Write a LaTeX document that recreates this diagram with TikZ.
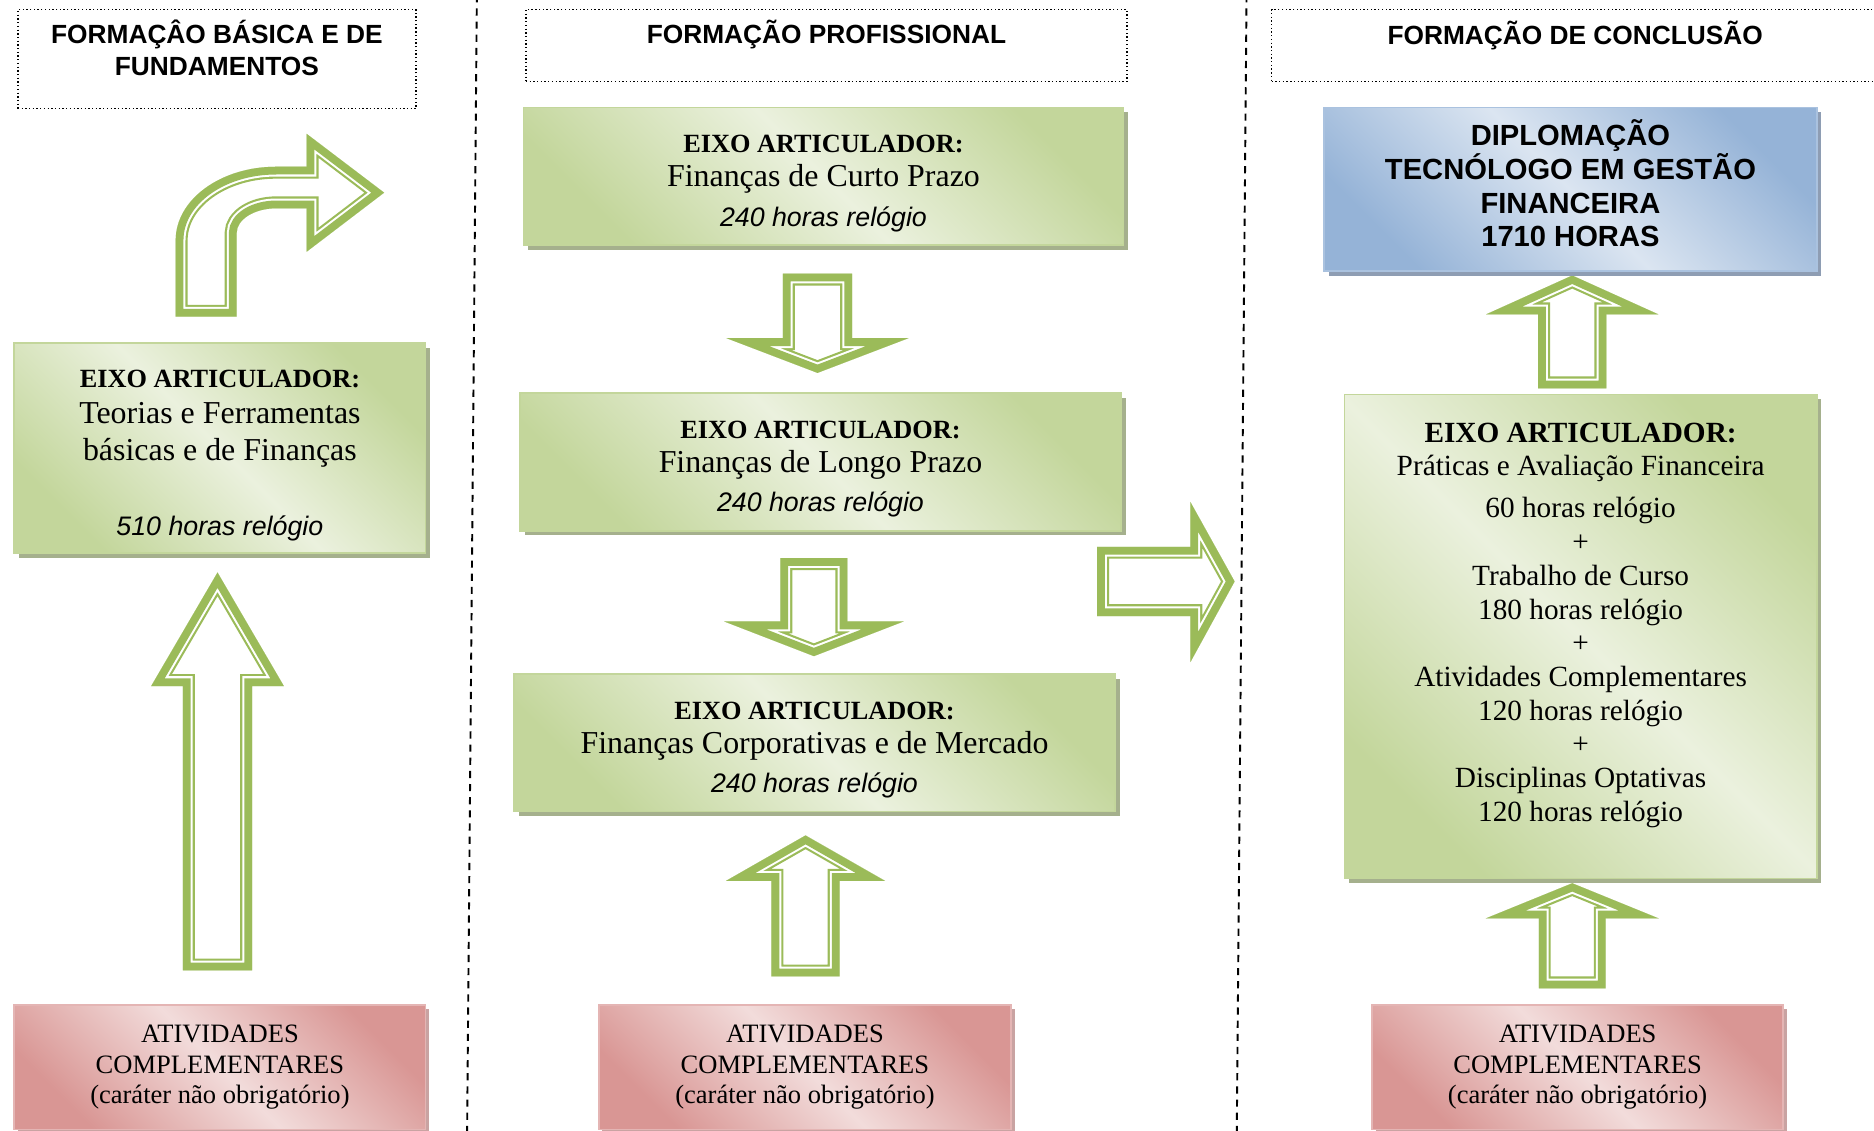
\documentclass[tikz,border=0pt]{standalone}
\usepackage{fontspec}
\setmainfont{Liberation Serif}
\setsansfont{Liberation Sans}
\usetikzlibrary{calc,shadows}
\definecolor{arrowgreen}{HTML}{9BBB59}
\definecolor{greenlt}{HTML}{EBF1DE}
\definecolor{greendk}{HTML}{C3D69B}
\definecolor{greenshd}{HTML}{A5B08D}
\definecolor{pinklt}{HTML}{F2DCDB}
\definecolor{pinkdk}{HTML}{D99694}
\definecolor{pinkshd}{HTML}{C9A3A2}
\definecolor{bluelt}{HTML}{DBE5F1}
\definecolor{bluedk}{HTML}{95B3D7}
\definecolor{blueshd}{HTML}{8E9DB3}
\tikzset{
  divider/.style={draw=black, line width=1.6pt, dash pattern=on 6pt off 5pt},
  frame/.style={draw=black, dotted, line width=1.1pt, inner sep=0pt},
  head/.style={font=\sffamily\bfseries\fontsize{22}{27}\selectfont, align=center, inner sep=0pt},
  greenbox/.style={draw=greendk, line width=1.5pt, left color=greendk, right color=greendk,
    middle color=greenlt, shading angle=-45, align=center, inner sep=0pt,
    drop shadow={shadow xshift=4pt, shadow yshift=-4pt, fill=greenshd, opacity=1}},
  pinkbox/.style={draw=pinkdk!70, line width=1.5pt, left color=pinkdk, right color=pinkdk,
    middle color=pinklt, shading angle=-45, align=center, inner sep=0pt,
    font=\fontsize{22.2}{25.5}\selectfont,
    drop shadow={shadow xshift=3pt, shadow yshift=-3pt, fill=pinkshd, opacity=1}},
  bluebox/.style={draw=bluedk!80, line width=1.5pt, left color=bluedk, right color=bluedk,
    middle color=bluelt, shading angle=-45, align=center, inner sep=0pt,
    font=\sffamily\bfseries\fontsize{24.4}{28.3}\selectfont,
    drop shadow={shadow xshift=4pt, shadow yshift=-4pt, fill=blueshd, opacity=1}},
}
% hollow block arrow: green rim, white gap, thin green line
\newcommand{\hollow}[1]{%
  \begin{scope}
    \clip #1;
    \fill[white] #1;
    \draw[arrowgreen, line width=20pt] #1;
    \draw[white, line width=16.4pt] #1;
    \draw[arrowgreen, line width=13pt] #1;
  \end{scope}}
% vertical block arrow: x, tip, head base, shaft end, head half width, shaft half width
\newcommand{\vblock}[6]{%
  \hollow{(#1,#2) -- (#1+#5,#3) -- (#1+#6,#3) -- (#1+#6,#4) -- (#1-#6,#4) -- (#1-#6,#3) -- (#1-#5,#3) -- cycle}}

\begin{document}
\begin{tikzpicture}[x=1pt,y=-1pt]
  \useasboundingbox (0,0) rectangle (1568,946);
  \draw[divider] (399,-4) -- (390.8,950);
  \draw[divider] (1043,-4) -- (1034.8,950);

  % headings
  \node[frame, minimum width=333, minimum height=83] (fr1) at (181.5,49.5) {};
  \node[head, anchor=north] (hd1) at ($(fr1.north)+(0,9)$) {FORMAÇÂO BÁSICA E DE\\FUNDAMENTOS};
  \node[frame, minimum width=503, minimum height=60] (fr2) at (691.5,38) {};
  \node[head, anchor=north] (hd2) at ($(fr2.north)+(0,9)$) {FORMAÇÃO PROFISSIONAL};
  \node[frame, minimum width=508, minimum height=60] (fr3) at (1318,38) {};
  \node[head, anchor=north] (hd3) at ($(fr3.north)+(0,10)$) {FORMAÇÃO DE CONCLUSÃO};

  % block arrows
  \hollow{(147,265) -- (147,201) .. controls (147,167) and (184.6,139.5) .. (231,139.5)
    -- (256.6,139.5) -- (256.6,112) -- (321.4,161.2) -- (256.6,210.6) -- (256.6,174.3)
    -- (231,174.3) .. controls (212.8,174.3) and (198,183.6) .. (198,195) -- (198,265) -- cycle}
  \vblock{182}{479}{574}{812}{55.5}{29}
  \vblock{684}{312}{283}{229}{76}{29}
  \vblock{681}{549}{520}{467}{75}{28}
  \vblock{674}{699}{737}{817}{66.5}{28.5}
  \hollow{(1033,486.5) -- (996,420) -- (996,457.5) -- (918,457.5) -- (918,515.5)
    -- (996,515.5) -- (996,554) -- cycle}
  \vblock{1315.5}{230.5}{263}{325}{72}{28.5}
  \vblock{1315.5}{739}{768.5}{827}{72.5}{28}

  % column 1
  \node[greenbox, minimum width=344, minimum height=176, font=\fontsize{26.7}{30.5}\selectfont]
    (eixo1) at (184,375) {\mbox{}\\[-4pt]{\bfseries\fontsize{22}{30}\selectfont EIXO ARTICULADOR:}\\
    Teorias e Ferramentas\\básicas e de Finanças\\[32pt]
    {\sffamily\itshape\fontsize{22.4}{30}\selectfont 510 horas relógio}};
  \node[pinkbox, minimum width=344, minimum height=104] (ativ1) at (184,893)
    {ATIVIDADES\\COMPLEMENTARES\\(caráter não obrigatório)};

  % column 2
  \node[greenbox, minimum width=502, minimum height=115, font=\fontsize{26.7}{28.5}\selectfont]
    (eixo2) at (689,147.5) {\mbox{}\\[-2pt]{\bfseries\fontsize{22}{28}\selectfont EIXO ARTICULADOR:}\\
    Finanças de Curto Prazo\\[4.5pt]{\sffamily\itshape\fontsize{22.4}{28}\selectfont 240 horas relógio}};
  \node[greenbox, minimum width=503, minimum height=115, font=\fontsize{26.7}{28.5}\selectfont]
    (eixo3) at (686.5,386.5) {\mbox{}\\[-2pt]{\bfseries\fontsize{22}{28}\selectfont EIXO ARTICULADOR:}\\
    Finanças de Longo Prazo\\[4.5pt]{\sffamily\itshape\fontsize{22.4}{28}\selectfont 240 horas relógio}};
  \node[greenbox, minimum width=503, minimum height=115, font=\fontsize{26.7}{28.5}\selectfont]
    (eixo4) at (681.5,621.5) {\mbox{}\\[-2pt]{\bfseries\fontsize{22}{28}\selectfont EIXO ARTICULADOR:}\\
    Finanças Corporativas e de Mercado\\[4.5pt]{\sffamily\itshape\fontsize{22.4}{28}\selectfont 240 horas relógio}};
  \node[pinkbox, minimum width=345, minimum height=104] (ativ2) at (673.5,893)
    {ATIVIDADES\\COMPLEMENTARES\\(caráter não obrigatório)};

  % column 3
  \node[bluebox, minimum width=412, minimum height=137] (diploma) at (1314,158.5)
    {DIPLOMAÇÃO\\TECNÓLOGO EM GESTÃO\\FINANCEIRA\\1710 HORAS\\[-18pt]\mbox{}};
  \node[greenbox, minimum width=395, minimum height=405, font=\fontsize{24.5}{28.2}\selectfont]
    (eixo5) at (1322.5,532.5) {{\bfseries EIXO ARTICULADOR:}\\
    Práticas e Avaliação Financeira\\[7pt]
    60 horas relógio\\+\\Trabalho de Curso\\180 horas relógio\\+\\
    Atividades Complementares\\120 horas relógio\\+\\
    Disciplinas Optativas\\120 horas relógio\\[-4pt]\mbox{}};
  \node[pinkbox, minimum width=344, minimum height=104] (ativ3) at (1320,893)
    {ATIVIDADES\\COMPLEMENTARES\\(caráter não obrigatório)};
\end{tikzpicture}
\end{document}
